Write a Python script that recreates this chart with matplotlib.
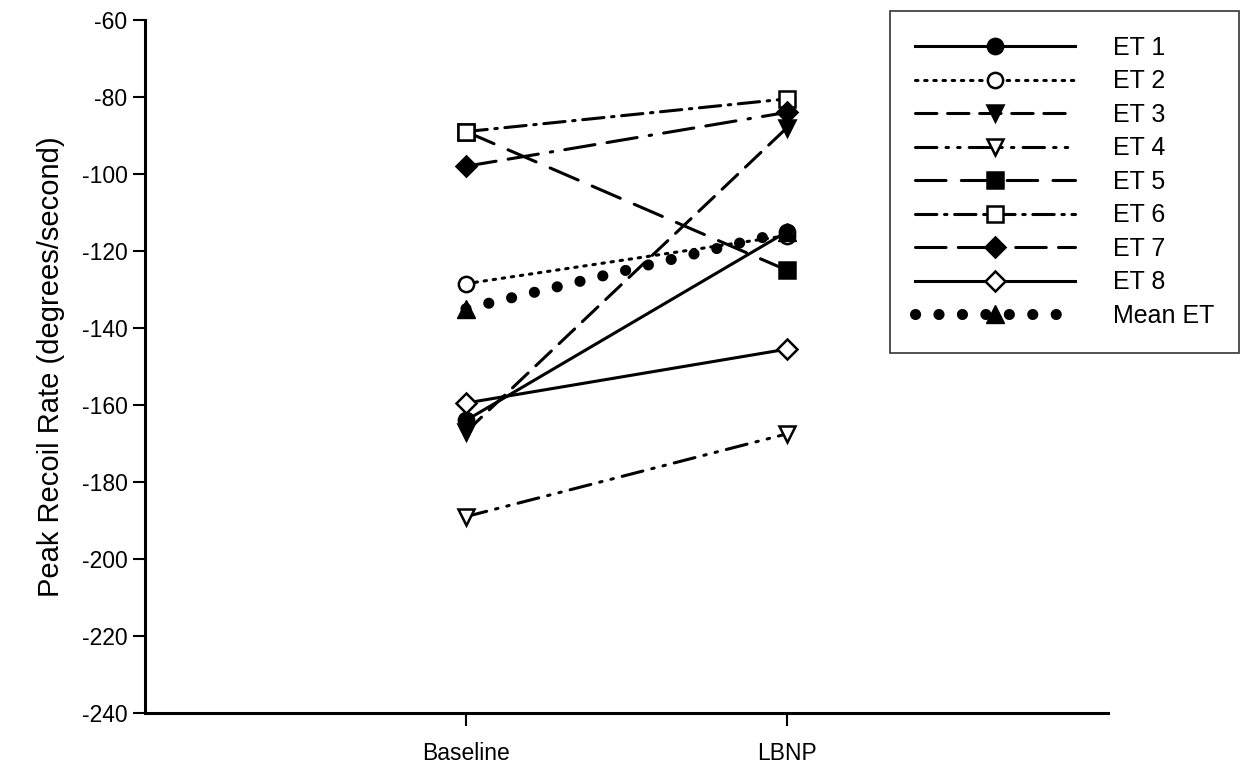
import matplotlib
matplotlib.use('Agg')
from matplotlib import pyplot as plt
import numpy as np

plt.rcParams['font.family'] = ['Liberation Sans', 'DejaVu Sans']
plt.rcParams['axes.unicode_minus'] = False

conditions = ['Baseline', 'LBNP']
labels = ['ET 1', 'ET 2', 'ET 3', 'ET 4', 'ET 5', 'ET 6', 'ET 7', 'ET 8', 'Mean ET']

baseline = [-164, -128.5, -167, -189, -89, -89, -98, -159.5, -135]
lbnp = [-115, -116, -88, -167.5, -125, -80.5, -84, -145.5, -115]

# line/marker styles per subject
styles = [
    ('-', 'o', 'black'),
    ((0, (0.8, 2.2)), 'o', 'white'),
    ((0, (7, 3.5)), 'v', 'black'),
    ((0, (7, 3, 0.8, 3, 0.8, 3)), 'v', 'white'),
    ((0, (10, 5)), 's', 'black'),
    ((0, (7, 2.5, 0.8, 2.5)), 's', 'white'),
    ((0, (10, 4, 10, 4, 0.8, 4)), 'D', 'black'),
    ('-', 'D', 'white'),
]

fig = plt.figure(figsize=(12.41, 7.67), dpi=100)
ax = fig.add_axes([0.1168, 0.0704, 0.776, 0.9036])

x = np.array([1, 2])
for i in range(8):
    ls, mk, fc = styles[i]
    ms = 10 if mk == 'D' else 11
    ax.plot(x, [baseline[i], lbnp[i]], linestyle=ls, color='black', lw=2.2,
            marker=mk, markersize=ms, markerfacecolor=fc, markeredgecolor='black',
            markeredgewidth=1.8, dash_capstyle='round', label=labels[i])

ax.plot(x, [baseline[8], lbnp[8]], linestyle=(0, (0.01, 2.1)), color='black', lw=8,
        dash_capstyle='round', marker='^', markersize=13, markerfacecolor='black',
        markeredgecolor='black', label=labels[8])

ax.set_xlim(0, 3)
ax.set_ylim(-240, -60)
ax.set_yticks(np.arange(-240, -59, 20))
ax.set_xticks(x)
ax.set_xticklabels(conditions)
ax.tick_params(axis='both', direction='out', length=9, width=1.5, labelsize=16.5, colors='black')
ax.tick_params(axis='x', pad=12)
ax.spines['top'].set_visible(False)
ax.spines['right'].set_visible(False)
ax.spines['left'].set_linewidth(2.2)
ax.spines['bottom'].set_linewidth(2.2)
ax.set_ylabel('Peak Recoil Rate (degrees/second)', fontsize=21, labelpad=12)

leg = ax.legend(loc='upper left', bbox_to_anchor=(0.7737, 1.013), fontsize=18,
                frameon=True, fancybox=False, edgecolor='black', handlelength=6.4,
                handletextpad=1.5, labelspacing=0.38, borderpad=1.0, borderaxespad=0)
leg.get_frame().set_linewidth(1.2)

plt.savefig('out.png', dpi=100)
